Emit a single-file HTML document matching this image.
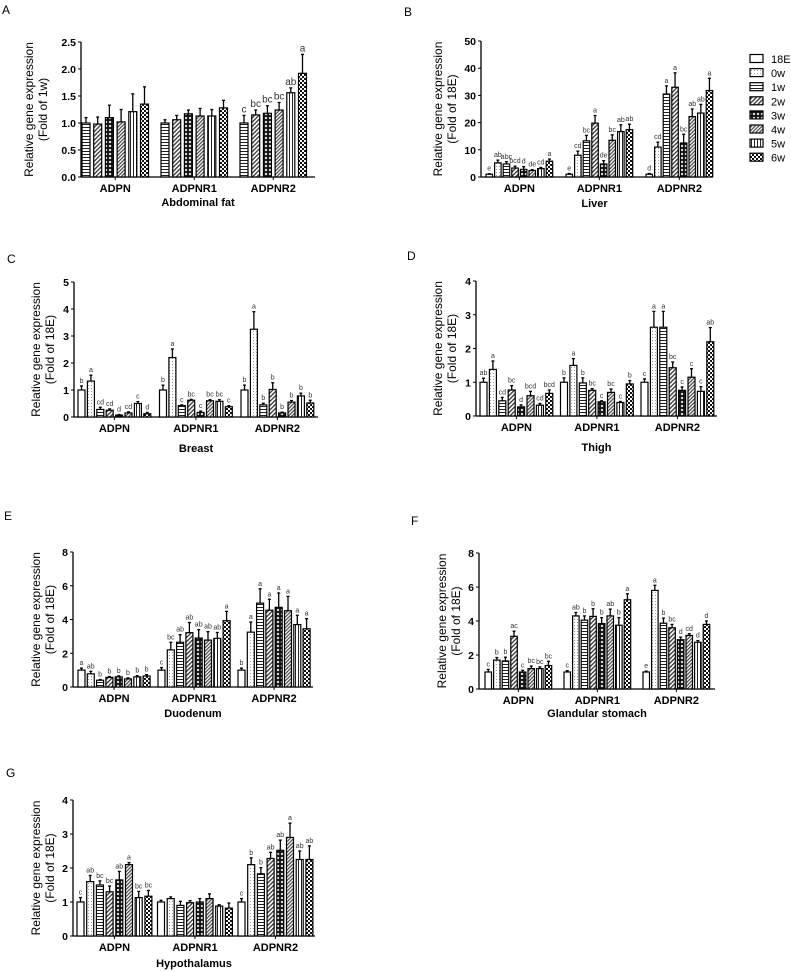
<!DOCTYPE html>
<html><head><meta charset="utf-8"><style>
html,body{margin:0;padding:0;background:#fff;}
svg{display:block;font-family:"Liberation Sans",Arial,sans-serif;}
</style></head><body>
<svg id="fig" width="791" height="972" viewBox="0 0 791 972" xmlns="http://www.w3.org/2000/svg">
<defs>
<pattern id="p0" width="4" height="4" patternUnits="userSpaceOnUse"><rect width="4" height="4" fill="#fff"/></pattern>
<pattern id="p1" width="3" height="3" patternUnits="userSpaceOnUse"><rect width="3" height="3" fill="#fff"/><rect x="1" y="1" width="1" height="1" fill="#999"/></pattern>
<pattern id="p2" width="4" height="3" patternUnits="userSpaceOnUse"><rect width="4" height="3" fill="#fff"/><rect y="1" width="4" height="1" fill="#222"/></pattern>
<pattern id="p3" width="3" height="3" patternUnits="userSpaceOnUse" patternTransform="rotate(45)"><rect width="3" height="3" fill="#fff"/><rect width="1.3" height="3" fill="#333"/></pattern>
<pattern id="p4" width="4" height="4" patternUnits="userSpaceOnUse"><rect width="4" height="4" fill="#111"/><rect x="1" y="1" width="2" height="2" fill="#fff" transform="rotate(45 2 2)"/></pattern>
<pattern id="p5" width="2.5" height="2.5" patternUnits="userSpaceOnUse" patternTransform="rotate(45)"><rect width="2.5" height="2.5" fill="#fff"/><rect width="1.2" height="2.5" fill="#444"/></pattern>
<pattern id="p6" width="3" height="4" patternUnits="userSpaceOnUse"><rect width="3" height="4" fill="#fff"/><rect x="1" width="1" height="4" fill="#222"/></pattern>
<pattern id="p7" width="4" height="4" patternUnits="userSpaceOnUse"><rect width="4" height="4" fill="#111"/><rect width="2" height="2" fill="#fff"/><rect x="2" y="2" width="2" height="2" fill="#fff"/></pattern>
</defs>
<g id="root"></g>
</svg>
<script>
const genes = ["ADPN","ADPNR1","ADPNR2"];
const seriesNames = ["18E","0w","1w","2w","3w","4w","5w","6w"];
// Panel A (1w..6w)
const aVals = [[1.0,0.98,1.1,1.02,1.21,1.35],[1.0,1.06,1.17,1.13,1.13,1.28],[1.0,1.15,1.18,1.24,1.56,1.92]];
const aErr = [[0.1,0.13,0.23,0.23,0.33,0.32],[0.06,0.08,0.07,0.14,0.12,0.14],[0.14,0.09,0.14,0.14,0.09,0.35]];
const aLbl = [["","","","","",""],["","","","","",""],["c","bc","bc","bc","ab","a"]];
const aTicks = ["0.0","0.5","1.0","1.5","2.0","2.5"];
// Panel B Liver
const bVals = [[1,5.2,4.8,3.3,2.8,2.4,3.1,5.8],[1,8,13.3,19.8,4.8,13.5,16.7,17.4],[1,11,30.5,33,12.5,22.2,23.5,31.8]];
const bErr = [[0.2,1,0.8,0.7,1,0.3,0.4,0.8],[0.3,1.5,2,2.8,1.2,2,2.5,2],[0.3,1.8,3,5.3,3.2,2.8,3.2,4.5]];
const bLbl = [["e","ab","abc","bcd","d","de","cd","a"],["e","cd","bc","a","de","bc","ab","ab"],["d","cd","a","a","bc","ab","ab","a"]];
const bTicks = ["0","10","20","30","40","50"];
// Panel C Breast
const cVals = [[1,1.33,0.28,0.25,0.07,0.15,0.5,0.12],[1,2.2,0.42,0.62,0.17,0.6,0.58,0.38],[1,3.25,0.45,1.02,0.15,0.55,0.78,0.52]];
const cErr = [[0.15,0.22,0.08,0.05,0.02,0.04,0.07,0.05],[0.18,0.32,0.03,0.03,0.05,0.04,0.06,0.04],[0.18,0.65,0.06,0.25,0.03,0.06,0.1,0.1]];
const cLbl = [["b","a","cd","cd","d","cd","c","d"],["b","a","c","bc","c","bc","bc","c"],["b","a","b","b","b","b","b","b"]];
const cTicks = ["0","1","2","3","4","5"];
// Panel D Thigh
const dVals = [[1,1.38,0.45,0.77,0.27,0.6,0.32,0.67],[1,1.5,0.98,0.76,0.42,0.7,0.4,0.95],[1,2.63,2.63,1.43,0.76,1.15,0.73,2.2]];
const dErr = [[0.12,0.25,0.1,0.13,0.06,0.13,0.05,0.1],[0.13,0.2,0.15,0.05,0.03,0.1,0.03,0.1],[0.1,0.47,0.47,0.17,0.1,0.25,0.14,0.42]];
const dLbl = [["ab","a","cd","bc","d","bcd","cd","bcd"],["b","a","b","bc","c","bc","c","b"],["c","a","a","bc","c","c","c","ab"]];
const dTicks = ["0","1","2","3","4"];
// Panel E Duodenum
const eVals = [[1,0.78,0.4,0.57,0.6,0.48,0.6,0.65],[1,2.2,2.65,3.22,2.9,2.78,2.88,3.93],[1,3.25,4.97,4.55,4.72,4.52,3.7,3.45]];
const eErr = [[0.12,0.15,0.04,0.05,0.06,0.06,0.07,0.08],[0.15,0.45,0.45,0.6,0.5,0.5,0.35,0.55],[0.12,0.6,0.85,0.65,0.85,0.85,0.55,0.6]];
const eLbl = [["a","ab","b","b","b","b","b","b"],["c","bc","ab","ab","ab","ab","ab","a"],["b","a","a","a","a","a","a","a"]];
const eTicks = ["0","2","4","6","8"];
// Panel F Glandular stomach
const fVals = [[1,1.7,1.65,3.1,1,1.2,1.2,1.38],[1,4.3,4.05,4.27,3.85,4.3,3.75,5.25],[1,5.8,3.87,3.6,2.9,3.15,2.75,3.8]];
const fErr = [[0.15,0.15,0.22,0.3,0.1,0.15,0.1,0.25],[0.08,0.2,0.25,0.45,0.35,0.4,0.45,0.35],[0.05,0.3,0.3,0.2,0.15,0.1,0.1,0.2]];
const fLbl = [["c","b","b","ac","c","bc","bc","bc"],["c","ab","b","b","b","ab","b","a"],["e","a","b","bc","d","cd","d","d"]];
const fTicks = ["0","2","4","6","8"];
// Panel G Hypothalamus
const gVals = [[1,1.6,1.5,1.3,1.65,2.1,1.13,1.17],[1,1.1,0.9,0.98,1,1.1,0.88,0.82],[1,2.1,1.83,2.28,2.52,2.9,2.25,2.25]];
const gErr = [[0.13,0.18,0.12,0.17,0.25,0.06,0.18,0.17],[0.05,0.05,0.12,0.06,0.1,0.14,0.04,0.15],[0.1,0.2,0.18,0.18,0.3,0.42,0.25,0.4]];
const gLbl = [["c","ab","bc","bc","ab","a","bc","bc"],["","","","","","","",""],["c","b","b","ab","ab","a","ab","ab"]];
const gTicks = ["0","1","2","3","4"];

const NS="http://www.w3.org/2000/svg";
const root=document.getElementById('root');
function mk(tag,attrs,parent){const e=document.createElementNS(NS,tag);for(const k in attrs)e.setAttribute(k,attrs[k]);(parent||root).appendChild(e);return e;}
function txt(s,x,y,size,weight,anchor,parent,fill){const t=mk('text',{x:x,y:y,'font-size':size,'font-weight':weight||'normal','text-anchor':anchor||'middle',fill:fill||'#000'},parent);t.textContent=s;return t;}

function panel(cfg){
  const g=mk('g',{});
  
  
  const pl=txt(cfg.id,cfg.lx,cfg.ly,12,'normal','start',g);
  
  
  const ymax=parseFloat(cfg.ticks[cfg.ticks.length-1]);
  const ys=v=>cfg.y0-(v/ymax)*(cfg.y0-cfg.yt);
  const ya=mk('line',{x1:cfg.left,y1:cfg.yt,x2:cfg.left,y2:cfg.y0,stroke:'#000','stroke-width':1.3},g);
  
  
  const xa=mk('line',{x1:cfg.left,y1:cfg.y0,x2:cfg.right,y2:cfg.y0,stroke:'#000','stroke-width':1.3},g);
  
  
  cfg.ticks.forEach(t=>{
    const y=ys(parseFloat(t));
    mk('line',{x1:cfg.left-3,y1:y,x2:cfg.left,y2:y,stroke:'#000','stroke-width':1},g);
    const tl=txt(t,cfg.left-5,y+4,10.5,'bold','end',g);
    
    
  });
  const midY=(cfg.y0+cfg.yt)/2;
  const t1=txt('Relative gene expression',0,0,12,'normal','middle',g);
  t1.setAttribute('transform','translate('+cfg.tx1+','+midY+') rotate(-90)');
  
  
  const t2=txt(cfg.sub,0,0,12,'normal','middle',g);
  t2.setAttribute('transform','translate('+(cfg.tx1+14)+','+midY+') rotate(-90)');
  
  
  const pats=cfg.pats;
  genes.forEach((gn,gi)=>{
    const gx=cfg.first+gi*cfg.gp;
    const n=cfg.vals[gi].length;
    const cx=gx+((n-1)*cfg.bp+cfg.bw)/2;
    const gl=txt(gn,cx,cfg.y0+15,11,'bold','middle',g);
    
    
    mk('line',{x1:cx,y1:cfg.y0,x2:cx,y2:cfg.y0+3,stroke:'#000'},g);
    cfg.vals[gi].forEach((v,i)=>{
      const x=gx+i*cfg.bp;
      const y=ys(v);
      const e=cfg.err[gi][i];
      const ey=ys(v+e);
      const ln=mk('line',{x1:x+cfg.bw/2,y1:y,x2:x+cfg.bw/2,y2:ey,stroke:'#000','stroke-width':1.3},g);
      
      
      mk('line',{x1:x+cfg.bw/2-1.5,y1:ey,x2:x+cfg.bw/2+1.5,y2:ey,stroke:'#000','stroke-width':1.3},g);
      const r=mk('rect',{x:x,y:y,width:cfg.bw,height:Math.max(cfg.y0-y,0.5),fill:'url(#p'+pats[i]+')',stroke:'#000','stroke-width':1.2},g);
      
      
      const lb=cfg.lbl[gi][i];
      if(lb){
        const s=txt(lb,x+cfg.bw/2,ey-3,cfg.lfs,'normal','middle',g,'#333');
        
        
      }
    });
  });
  const xl=txt(cfg.xlabel,(cfg.left+cfg.right)/2,cfg.y0+cfg.xlo,11,'bold','middle',g);
  
  
}
const all8=[0,1,2,3,4,5,6,7];
panel({id:'A',lx:2,ly:14,left:81,right:315,y0:177,yt:42,ticks:aTicks,vals:aVals,err:aErr,lbl:aLbl,first:82,gp:79,bp:11.7,bw:8,pats:[2,3,4,5,6,7],series:["1w","2w","3w","4w","5w","6w"],tx1:33,sub:'(Fold of 1w)',xlabel:'Abdominal fat',xlo:29,lfs:10});
panel({id:'B',lx:404,ly:16,left:481,right:708,y0:177,yt:41,ticks:bTicks,vals:bVals,err:bErr,lbl:bLbl,first:486,gp:80,bp:8.6,bw:6.5,pats:all8,series:seriesNames,tx1:442,sub:'(Fold of 18E)',xlabel:'Liver',xlo:30,lfs:7});
panel({id:'C',lx:7,ly:263,left:74,right:318,y0:417,yt:282,ticks:cTicks,vals:cVals,err:cErr,lbl:cLbl,first:78,gp:81.5,bp:9.4,bw:7,pats:all8,series:seriesNames,tx1:40,sub:'(Fold of 18E)',xlabel:'Breast',xlo:35,lfs:7});
panel({id:'D',lx:407,ly:260,left:476,right:717,y0:416,yt:281,ticks:dTicks,vals:dVals,err:dErr,lbl:dLbl,first:480,gp:80.5,bp:9.4,bw:7,pats:all8,series:seriesNames,tx1:442,sub:'(Fold of 18E)',xlabel:'Thigh',xlo:35,lfs:7});
panel({id:'E',lx:4,ly:520,left:73,right:313,y0:687,yt:552,ticks:eTicks,vals:eVals,err:eErr,lbl:eLbl,first:78,gp:80,bp:9.3,bw:7,pats:all8,series:seriesNames,tx1:40,sub:'(Fold of 18E)',xlabel:'Duodenum',xlo:30,lfs:7});
panel({id:'F',lx:411,ly:525,left:479,right:715,y0:689,yt:553,ticks:fTicks,vals:fVals,err:fErr,lbl:fLbl,first:485,gp:79,bp:8.6,bw:6.5,pats:all8,series:seriesNames,tx1:446,sub:'(Fold of 18E)',xlabel:'Glandular stomach',xlo:28,lfs:7});
panel({id:'G',lx:6,ly:777,left:73,right:315,y0:936,yt:800,ticks:gTicks,vals:gVals,err:gErr,lbl:gLbl,first:77,gp:80.5,bp:9.7,bw:7,pats:all8,series:seriesNames,tx1:40,sub:'(Fold of 18E)',xlabel:'Hypothalamus',xlo:31,lfs:7});

const lg=mk('g',{});


seriesNames.forEach((s,i)=>{
  const y=59+i*14.1;
  const e=mk('g',{},lg);
  
  
  mk('rect',{x:750,y:y-4.5,width:13,height:8,fill:'url(#p'+i+')',stroke:'#000','stroke-width':1.2},e);
  txt(s,771,y+4,11,'normal','start',e);
});
</script>
</body></html>
